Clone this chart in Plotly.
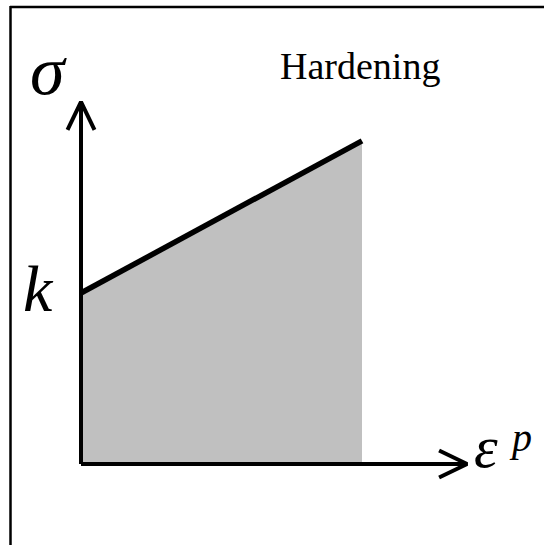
import plotly.graph_objects as go

# plastic strain vs. yield stress (normalised: k = 1)
STRAIN = [0.0, 1.0]
STRESS = [1.0, 1.89]
AXIS_LEN = {"strain": 1.374, "stress": 2.117}
LABELS = {"stress": "σ", "strain": "ε", "strain_sup": "p", "yield": "k", "title": "Hardening"}

W, H = 544, 545
X0, Y0 = 81, 464      # pixel position of the origin
SX, SY = 281, 171     # pixels per unit
GREY = "#c0c0c0"
SERIF = "Liberation Serif, Times New Roman, serif"


def px(x, y):
    return x / W, 1 - y / H


fig = go.Figure()

fig.add_scatter(
    x=STRAIN, y=STRESS, mode="none", fill="tozeroy", fillcolor=GREY,
    hoverinfo="skip",
)

# axes with open arrowheads
ex, sy = AXIS_LEN["strain"], AXIS_LEN["stress"]
wing_x, wing_y = 28 / SX, 13.5 / SY
fig.add_scatter(
    x=[0, ex, None, ex - wing_x, ex, ex - wing_x],
    y=[0, 0, None, wing_y, 0, -wing_y],
    mode="lines", line={"color": "black", "width": 4}, hoverinfo="skip",
)
wing_x2, wing_y2 = 13.5 / SX, 28 / SY
fig.add_scatter(
    x=[0, 0, None, -wing_x2, 0, wing_x2],
    y=[0, sy, None, sy - wing_y2, sy, sy - wing_y2],
    mode="lines", line={"color": "black", "width": 4}, hoverinfo="skip",
)

fig.add_scatter(
    x=STRAIN, y=STRESS, mode="lines", line={"color": "black", "width": 5.5},
    hoverinfo="skip",
)

texts = [
    (LABELS["stress"], 48, 70, 70, "italic"),
    (LABELS["yield"], 38, 288, 66, "italic"),
    (LABELS["strain"], 486, 447, 60, "italic"),
    (LABELS["strain_sup"], 520, 437, 40, "italic"),
    (LABELS["title"], 360, 66, 38, "normal"),
]
for text, x, y, size, style in texts:
    ax, ay = px(x, y)
    fig.add_annotation(
        text=text, x=ax, y=ay, xref="paper", yref="paper",
        xanchor="center", yanchor="middle", showarrow=False,
        font={"family": SERIF, "size": size, "color": "black", "style": style},
    )

# frame: only top and left edges are visible in the crop
fig.add_shape(type="line", xref="paper", yref="paper",
              x0=10 / W, x1=1, y0=1 - 7 / H, y1=1 - 7 / H,
              line={"color": "black", "width": 2.5})
fig.add_shape(type="line", xref="paper", yref="paper",
              x0=10.5 / W, x1=10.5 / W, y0=0, y1=1 - 6 / H,
              line={"color": "black", "width": 2.5})

fig.update_layout(
    width=W, height=H,
    margin={"l": 0, "r": 0, "t": 0, "b": 0},
    paper_bgcolor="white", plot_bgcolor="white",
    showlegend=False,
)
fig.update_xaxes(range=[-X0 / SX, (W - X0) / SX], visible=False, fixedrange=True)
fig.update_yaxes(range=[-(H - Y0) / SY, Y0 / SY], visible=False, fixedrange=True)

fig.write_html("out.html", config={"displayModeBar": False},
               post_script="document.body.style.margin='0';")
